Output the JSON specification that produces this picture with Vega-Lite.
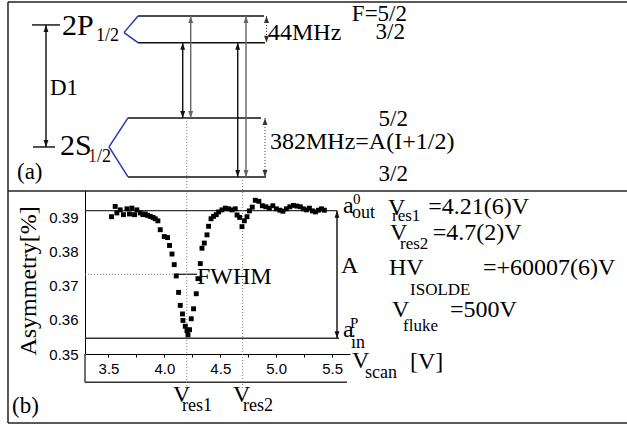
{
"$schema": "https://vega.github.io/schema/vega-lite/v6.json",
"width": 265, "height": 164,
"autosize": {"type": "none"},
"padding": {"left": 85, "top": 190, "right": 277, "bottom": 72},
"background": "white",
"config": {"view": {"stroke": null}, "axis": {"grid": false, "domainColor": "black", "tickColor": "black", "labelColor": "black", "labelFont": "Liberation Sans", "labelFontSize": 15}},
"datasets": {
"scan": [
{"x":3.527,"y":0.3901},{"x":3.560,"y":0.3931},{"x":3.575,"y":0.3912},{"x":3.605,"y":0.3921},{"x":3.634,"y":0.3907},{"x":3.665,"y":0.3924},{"x":3.688,"y":0.3909},{"x":3.709,"y":0.3926},{"x":3.733,"y":0.3907},{"x":3.754,"y":0.3921},{"x":3.784,"y":0.3912},{"x":3.808,"y":0.3907},{"x":3.829,"y":0.3909},{"x":3.849,"y":0.3905},{"x":3.873,"y":0.3902},{"x":3.897,"y":0.3899},{"x":3.918,"y":0.3895},{"x":3.942,"y":0.3889},{"x":3.963,"y":0.3863},{"x":3.999,"y":0.3843},{"x":4.028,"y":0.3840},{"x":4.046,"y":0.3817},{"x":4.068,"y":0.3792},{"x":4.088,"y":0.3761},{"x":4.106,"y":0.3728},{"x":4.127,"y":0.3680},{"x":4.142,"y":0.3642},{"x":4.162,"y":0.3617},{"x":4.166,"y":0.3598},{"x":4.187,"y":0.3581},{"x":4.202,"y":0.3568},{"x":4.211,"y":0.3556},{"x":4.225,"y":0.3571},{"x":4.240,"y":0.3603},{"x":4.261,"y":0.3632},{"x":4.285,"y":0.3676},{"x":4.300,"y":0.3720},{"x":4.321,"y":0.3764},{"x":4.336,"y":0.3809},{"x":4.357,"y":0.3824},{"x":4.381,"y":0.3848},{"x":4.395,"y":0.3873},{"x":4.417,"y":0.3895},{"x":4.440,"y":0.3902},{"x":4.464,"y":0.3907},{"x":4.485,"y":0.3915},{"x":4.515,"y":0.3921},{"x":4.545,"y":0.3926},{"x":4.574,"y":0.3924},{"x":4.605,"y":0.3921},{"x":4.634,"y":0.3924},{"x":4.650,"y":0.3906},{"x":4.673,"y":0.3899},{"x":4.694,"y":0.3872},{"x":4.715,"y":0.3889},{"x":4.739,"y":0.3901},{"x":4.760,"y":0.3918},{"x":4.786,"y":0.3929},{"x":4.813,"y":0.3949},{"x":4.845,"y":0.3946},{"x":4.876,"y":0.3933},{"x":4.907,"y":0.3930},{"x":4.939,"y":0.3926},{"x":4.970,"y":0.3933},{"x":5.001,"y":0.3924},{"x":5.033,"y":0.3920},{"x":5.060,"y":0.3917},{"x":5.091,"y":0.3924},{"x":5.122,"y":0.3930},{"x":5.154,"y":0.3934},{"x":5.185,"y":0.3932},{"x":5.216,"y":0.3930},{"x":5.243,"y":0.3924},{"x":5.270,"y":0.3921},{"x":5.297,"y":0.3926},{"x":5.324,"y":0.3918},{"x":5.351,"y":0.3915},{"x":5.378,"y":0.3920},{"x":5.405,"y":0.3924},{"x":5.431,"y":0.3920}
],
"segs": [
{"k":"frame","x":2.6013,"y":0.45284,"x2":8.2,"y2":0.45284},
{"k":"frame","x":2.6013,"y":0.39762,"x2":8.2,"y2":0.39762},
{"k":"frame","x":2.6013,"y":0.32984,"x2":8.2,"y2":0.32984},
{"k":"frame","x":2.6013,"y":0.45284,"x2":2.6013,"y2":0.32984},
{"k":"arrow","x":2.816,"y":0.44611,"x2":3.0664,"y2":0.44611},
{"k":"arrow","x":2.8249,"y":0.41047,"x2":3.0217,"y2":0.41047},
{"k":"level","x":3.764,"y":0.44874,"x2":4.8909,"y2":0.44874},
{"k":"level","x":3.764,"y":0.44094,"x2":4.8999,"y2":0.44094},
{"k":"level","x":3.6746,"y":0.41895,"x2":4.8641,"y2":0.41895},
{"k":"level","x":3.6746,"y":0.40171,"x2":4.9088,"y2":0.40171},
{"k":"blue","x":3.6388,"y":0.44387,"x2":3.764,"y2":0.44874},
{"k":"blue","x":3.6388,"y":0.44387,"x2":3.764,"y2":0.44094},
{"k":"blue","x":3.5047,"y":0.41047,"x2":3.6746,"y2":0.41895},
{"k":"blue","x":3.5047,"y":0.41047,"x2":3.6746,"y2":0.40171},
{"k":"arrow","x":2.9412,"y":0.44611,"x2":2.9412,"y2":0.41047},
{"k":"arrow","x":4.1638,"y":0.44094,"x2":4.1638,"y2":0.41895},
{"k":"arrow","x":4.6557,"y":0.44094,"x2":4.6557,"y2":0.40171},
{"k":"arrow","x":5.5438,"y":0.39187,"x2":5.5438,"y2":0.35459},
{"k":"arrowg","x":4.2354,"y":0.44874,"x2":4.2354,"y2":0.41895},
{"k":"arrowg","x":4.7299,"y":0.44874,"x2":4.7299,"y2":0.40171},
{"k":"ref","x":3.29,"y":0.39187,"x2":5.5438,"y2":0.39187},
{"k":"ref","x":3.29,"y":0.35459,"x2":5.5617,"y2":0.35459},
{"k":"ref","x":4.1039,"y":0.37328,"x2":4.2917,"y2":0.37328},
{"k":"ref","x":3.29,"y":0.34173,"x2":5.6333,"y2":0.34173},
{"k":"ref","x":3.29,"y":0.35,"x2":3.29,"y2":0.34173}
],
"dots": [
{"k":"dot","x":3.29,"y":0.37328,"x2":4.1039,"y2":0.37328},
{"k":"dot","x":4.2,"y":0.41895,"x2":4.2,"y2":0.33948},
{"k":"dot","x":4.7,"y":0.40171,"x2":4.7,"y2":0.33948},
{"k":"hf","x":4.9133,"y":0.44874,"x2":4.9133,"y2":0.44094},
{"k":"hf","x":4.8999,"y":0.41895,"x2":4.8999,"y2":0.40171}
],
"heads": [
{"k":"big","d":"up","x":2.9412,"y":0.44611},{"k":"big","d":"down","x":2.9412,"y":0.41047},
{"k":"big","d":"up","x":4.1638,"y":0.44094},{"k":"big","d":"down","x":4.1638,"y":0.41895},
{"k":"big","d":"up","x":4.6557,"y":0.44094},{"k":"big","d":"down","x":4.6557,"y":0.40171},
{"k":"gray","d":"up","x":4.2354,"y":0.44874},{"k":"gray","d":"down","x":4.2354,"y":0.41895},
{"k":"gray","d":"up","x":4.7299,"y":0.44874},{"k":"gray","d":"down","x":4.7299,"y":0.40171},
{"k":"big","d":"up","x":5.5438,"y":0.39187},{"k":"big","d":"down","x":5.5438,"y":0.35459},
{"k":"small","d":"up","x":4.9133,"y":0.44874},{"k":"small","d":"down","x":4.9133,"y":0.44094},
{"k":"small","d":"up","x":4.8999,"y":0.41895},{"k":"small","d":"down","x":4.8999,"y":0.40171}
],
"texts": [
{"g":"lvl","t":"2P","x":3.0843,"y":0.44319},{"g":"lvl","t":"2S","x":3.0664,"y":0.40814},
{"g":"sub","t":"1/2","x":3.3884,"y":0.44144},{"g":"sub","t":"/2","x":3.3973,"y":0.40609},
{"g":"sub","t":"out","x":5.678,"y":0.38973},{"g":"sub","t":"in","x":5.669,"y":0.35175},
{"g":"sub","t":"scan","x":5.7942,"y":0.34299},{"g":"sub2","t":"res1","x":6.0357,"y":0.38885},
{"g":"sub2","t":"res2","x":6.1073,"y":0.38068},{"g":"sub2","t":"ISOLDE","x":6.1967,"y":0.36724},
{"g":"sub2","t":"fluke","x":6.1341,"y":0.35672},{"g":"sub","t":"res1","x":4.1575,"y":0.33335},
{"g":"sub","t":"res2","x":4.7031,"y":0.33335},
{"g":"red","t":"1","x":3.3168,"y":0.40609},
{"g":"main","t":"44MHz","x":4.9267,"y":0.44173},{"g":"main","t":"382MHz=A(I+1/2)","x":4.9446,"y":0.40989},
{"g":"main","t":"FWHM","x":4.2917,"y":0.37045},{"g":"main","t":"a","x":5.5975,"y":0.39119},
{"g":"main","t":"A","x":5.5796,"y":0.37366},{"g":"main","t":"a","x":5.5975,"y":0.35497},
{"g":"main","t":"V","x":5.678,"y":0.34591},{"g":"main","t":"[V]","x":6.1967,"y":0.34562},
{"g":"main","t":"V","x":6.0,"y":0.39061},{"g":"main","t":"=4.21(6)V","x":6.36,"y":0.3909},
{"g":"main","t":"V","x":6.0178,"y":0.3833},{"g":"main","t":"=4.7(2)V","x":6.40,"y":0.3833},
{"g":"main","t":"HV","x":6.0089,"y":0.37308},{"g":"main","t":"=+60007(6)V","x":6.8496,"y":0.37308},
{"g":"main","t":"V","x":6.0357,"y":0.36081},{"g":"main","t":"=500V","x":6.5545,"y":0.36081},
{"g":"main","t":"V","x":4.077,"y":0.33598},{"g":"main","t":"V","x":4.6137,"y":0.33598},
{"g":"lab","t":"D1","x":2.977,"y":0.42566},{"g":"lab","t":"(a)","x":2.6818,"y":0.40113},
{"g":"lab","t":"(b)","x":2.6371,"y":0.33276},
{"g":"sup","t":"0","x":5.6869,"y":0.39382},{"g":"sup","t":"P","x":5.6601,"y":0.3576},
{"g":"frac","t":"F=5/2","x":6.1699,"y":0.44728},{"g":"frac","t":"3/2","x":6.152,"y":0.44202},
{"g":"frac","t":"5/2","x":6.1788,"y":0.41661},{"g":"frac","t":"3/2","x":6.1788,"y":0.40054},
{"g":"title","t":"Asymmetry[%]","x":2.8518,"y":0.37133}
]
},
"encoding": {
"x": {"field": "x", "type": "quantitative", "scale": {"domain": [3.29, 5.66], "nice": false, "zero": false},
 "axis": {"orient": "bottom", "title": null, "values": [3.5,3.75,4,4.25,4.5,4.75,5,5.25,5.5], "labelExpr": "abs(datum.value*2 - round(datum.value*2)) < 0.001 ? format(datum.value, '.1f') : ''", "tickSize": 3, "labelPadding": 4, "labelFlush": false, "labelOverlap": false, "labelBound": false}},
"y": {"field": "y", "type": "quantitative", "scale": {"domain": [0.35, 0.3979], "nice": false, "zero": false},
 "axis": {"title": null, "values": [0.35,0.36,0.37,0.38,0.39], "format": ".2f", "tickSize": 0, "labelPadding": 7, "labelOverlap": false}}
},
"layer": [
{
"data": {"name": "segs"},
"mark": {"type": "rule"},
"encoding": {
"x2": {"field": "x2"}, "y2": {"field": "y2"},
"color": {"field": "k", "type": "nominal", "legend": null, "scale": {"domain": ["frame","level","blue","arrow","arrowg","ref","dot","hf","big","gray","small"], "range": ["#222222","#111111","#2238b0","#111111","#666666","#333333","#777777","#333333","#111111","#666666","#333333"]}},
"strokeWidth": {"field": "k", "type": "nominal", "legend": null, "scale": {"domain": ["frame","level","blue","arrow","arrowg","ref"], "range": [1.5,1.4,1.2,1,1.2,1.2]}}
}
},
{
"data": {"name": "dots"},
"mark": {"type": "rule", "strokeDash": [1, 2], "strokeWidth": 1},
"encoding": {
"x2": {"field": "x2"}, "y2": {"field": "y2"},
"color": {"field": "k", "type": "nominal", "legend": null, "scale": {"domain": ["frame","level","blue","arrow","arrowg","ref","dot","hf","big","gray","small"], "range": ["#222222","#111111","#2238b0","#111111","#666666","#333333","#777777","#333333","#111111","#666666","#333333"]}}
}
},
{
"data": {"name": "heads"},
"mark": {"type": "point", "filled": true, "opacity": 1, "strokeWidth": 0},
"encoding": {
"shape": {"field": "d", "type": "nominal", "legend": null, "scale": {"domain": ["up","down"], "range": ["M0,0L-0.35,1L0.35,1Z","M0,0L-0.35,-1L0.35,-1Z"]}},
"size": {"field": "k", "type": "nominal", "legend": null, "scale": {"domain": ["big","gray","small"], "range": [196,196,64]}},
"color": {"field": "k", "type": "nominal", "legend": null, "scale": {"domain": ["frame","level","blue","arrow","arrowg","ref","dot","hf","big","gray","small"], "range": ["#222222","#111111","#2238b0","#111111","#666666","#333333","#777777","#333333","#111111","#666666","#333333"]}}
}
},
{
"data": {"name": "scan"},
"mark": {"type": "point", "shape": "square", "filled": true, "opacity": 1, "color": "black", "size": 24}
},
{
"data": {"name": "texts"},
"transform": [{"filter": "datum.g == 'lvl'"}],
"mark": {"type": "text", "font": "Liberation Serif", "fontSize": 30, "align": "left", "baseline": "alphabetic", "color": "black"},
"encoding": {"text": {"field": "t"}}
},
{
"data": {"name": "texts"},
"transform": [{"filter": "datum.g == 'main'"}],
"mark": {"type": "text", "font": "Liberation Serif", "fontSize": 24, "align": "left", "baseline": "alphabetic", "color": "black"},
"encoding": {"text": {"field": "t"}}
},
{
"data": {"name": "texts"},
"transform": [{"filter": "datum.g == 'lab'"}],
"mark": {"type": "text", "font": "Liberation Serif", "fontSize": 23, "align": "left", "baseline": "alphabetic", "color": "black"},
"encoding": {"text": {"field": "t"}}
},
{
"data": {"name": "texts"},
"transform": [{"filter": "datum.g == 'sub'"}],
"mark": {"type": "text", "font": "Liberation Serif", "fontSize": 18, "align": "left", "baseline": "alphabetic", "color": "black"},
"encoding": {"text": {"field": "t"}}
},
{
"data": {"name": "texts"},
"transform": [{"filter": "datum.g == 'sub2'"}],
"mark": {"type": "text", "font": "Liberation Serif", "fontSize": 17, "align": "left", "baseline": "alphabetic", "color": "black"},
"encoding": {"text": {"field": "t"}}
},
{
"data": {"name": "texts"},
"transform": [{"filter": "datum.g == 'red'"}],
"mark": {"type": "text", "font": "Liberation Serif", "fontSize": 18, "align": "left", "baseline": "alphabetic", "color": "#8b1414"},
"encoding": {"text": {"field": "t"}}
},
{
"data": {"name": "texts"},
"transform": [{"filter": "datum.g == 'sup'"}],
"mark": {"type": "text", "font": "Liberation Serif", "fontSize": 15, "align": "left", "baseline": "alphabetic", "color": "black"},
"encoding": {"text": {"field": "t"}}
},
{
"data": {"name": "texts"},
"transform": [{"filter": "datum.g == 'frac'"}],
"mark": {"type": "text", "font": "Liberation Serif", "fontSize": 23, "align": "right", "baseline": "alphabetic", "color": "black"},
"encoding": {"text": {"field": "t"}}
},
{
"data": {"name": "texts"},
"transform": [{"filter": "datum.g == 'title'"}],
"mark": {"type": "text", "font": "Liberation Serif", "fontSize": 24, "align": "center", "baseline": "alphabetic", "angle": 270, "color": "black"},
"encoding": {"text": {"field": "t"}}
}
]
}
